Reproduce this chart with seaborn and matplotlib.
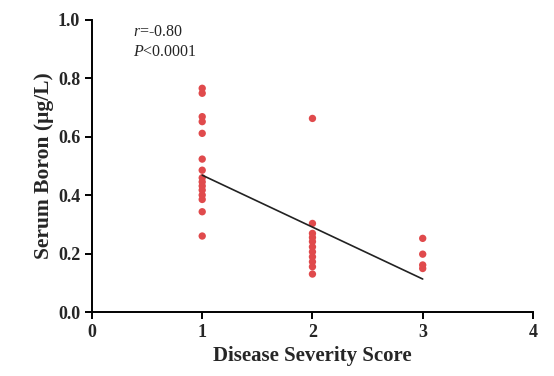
import matplotlib
matplotlib.use("Agg")
import matplotlib.pyplot as plt
import seaborn as sns
import pandas as pd

# values
score_1 = [0.765, 0.748, 0.668, 0.651, 0.611, 0.523, 0.485, 0.459, 0.445,
           0.431, 0.417, 0.400, 0.385, 0.343, 0.260]
score_2 = [0.662, 0.303, 0.269, 0.255, 0.241, 0.223, 0.206, 0.189, 0.172,
           0.155, 0.130]
score_3 = [0.252, 0.198, 0.161, 0.149]

# fitted regression line (as drawn in the figure)
fit_x = [1.0, 3.0]
fit_y = [0.468, 0.113]

df = pd.DataFrame({
    "score": [1] * len(score_1) + [2] * len(score_2) + [3] * len(score_3),
    "boron": score_1 + score_2 + score_3,
})
fit_df = pd.DataFrame({"score": fit_x, "boron": fit_y})

sns.set_style("ticks")
plt.rcParams["font.family"] = ["Liberation Serif", "DejaVu Serif"]
plt.rcParams["mathtext.fontset"] = "custom"
plt.rcParams["mathtext.rm"] = "Liberation Serif"
plt.rcParams["mathtext.it"] = "Liberation Serif:italic"

fig = plt.figure(figsize=(5.54, 3.76), dpi=100)
ax = fig.add_axes([0.166, 0.170, 0.796, 0.778])

sns.scatterplot(data=df, x="score", y="boron", color="#e04a4c", s=28,
                edgecolor="none", ax=ax)
sns.lineplot(data=fit_df, x="score", y="boron", color="#222222", lw=1.2, ax=ax)

ax.set_xlim(0, 4)
ax.set_ylim(0, 1.0)
ax.set_xticks([0, 1, 2, 3, 4])
ax.set_yticks([0.0, 0.2, 0.4, 0.6, 0.8, 1.0])
ax.set_yticklabels(["0.0", "0.2", "0.4", "0.6", "0.8", "1.0"])
sns.despine(ax=ax)
for sp in ["left", "bottom"]:
    ax.spines[sp].set_linewidth(1.4)
    ax.spines[sp].set_color("black")
ax.tick_params(width=1.4, length=5, labelsize=13, color="black")
for lab in ax.get_xticklabels() + ax.get_yticklabels():
    lab.set_fontweight("bold")

ax.set_xlabel("Disease Severity Score", fontsize=15, fontweight="bold", labelpad=4)
ax.set_ylabel("Serum Boron (μg/L)", fontsize=15.5, fontweight="bold", labelpad=3)

ax.text(0.37, 0.985, r"$\it{r}$=-0.80", fontsize=11.5, va="top")
ax.text(0.37, 0.915, r"$\it{P}$<0.0001", fontsize=11.5, va="top")

fig.savefig("out.png", dpi=100)
